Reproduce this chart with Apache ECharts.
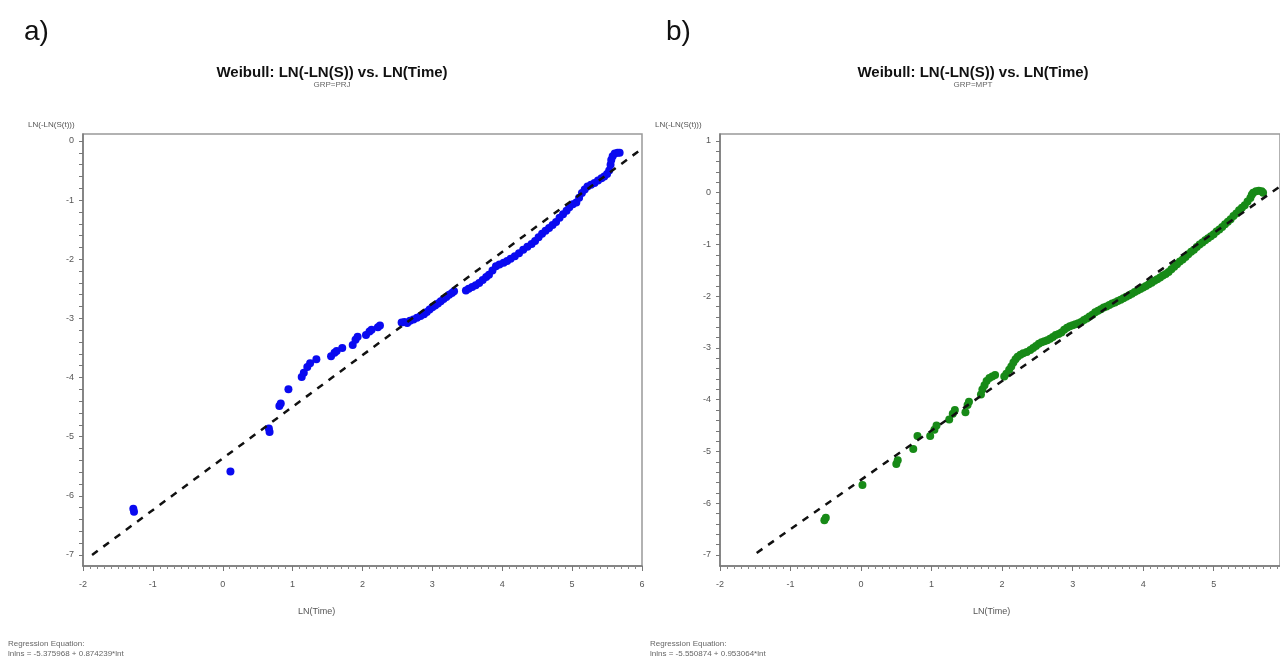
<!DOCTYPE html>
<html><head><meta charset="utf-8">
<script src="https://cdn.jsdelivr.net/npm/echarts@6/dist/echarts.min.js"></script>
<style>html,body{margin:0;padding:0;background:#fff}#c{width:1280px;height:663px}</style>
</head><body><div id="c"></div>
<script>
// ---- data ----
const xTickLabels = [-2, -1, 0, 1, 2, 3, 4, 5, 6];
const yTickLabelsA = [0, -1, -2, -3, -4, -5, -6, -7];
const yTickLabelsB = [1, 0, -1, -2, -3, -4, -5, -6, -7];

const pointsA = [
  [-1.27,-6.27],[-1.28,-6.22],[0.11,-5.59],[0.66,-4.86],[0.67,-4.92],[0.81,-4.48],[0.83,-4.44],
  [0.94,-4.20],[1.13,-3.99],[1.16,-3.92],[1.21,-3.82],[1.25,-3.76],[1.34,-3.69],[1.55,-3.64],
  [1.60,-3.58],[1.63,-3.55],[1.71,-3.50],[1.86,-3.45],[1.90,-3.36],[1.93,-3.31],[2.05,-3.28],
  [2.10,-3.22],[2.13,-3.19],[2.22,-3.15],[2.25,-3.12],
  [2.56,-3.07],[2.60,-3.06],[2.64,-3.08],[2.68,-3.04],[2.73,-3.02],[2.78,-2.99],[2.83,-2.96],
  [2.88,-2.93],[2.92,-2.89],[2.96,-2.85],[3.00,-2.81],[3.04,-2.78],[3.08,-2.75],[3.12,-2.71],
  [3.16,-2.67],[3.20,-2.64],[3.24,-2.60],[3.28,-2.57],[3.31,-2.54],
  [3.48,-2.53],[3.52,-2.50],[3.57,-2.47],[3.62,-2.44],[3.67,-2.40],[3.72,-2.35],[3.77,-2.30],
  [3.81,-2.26],[3.86,-2.19],[3.91,-2.12],[3.96,-2.09],[4.02,-2.06],[4.07,-2.03],[4.12,-1.99],
  [4.18,-1.95],[4.24,-1.90],[4.30,-1.84],[4.36,-1.79],[4.42,-1.74],[4.47,-1.69],[4.52,-1.63],
  [4.57,-1.57],[4.62,-1.52],[4.67,-1.47],[4.72,-1.42],[4.77,-1.37],[4.82,-1.30],[4.87,-1.24],
  [4.92,-1.18],[4.96,-1.12],[5.01,-1.07],[5.06,-1.04],[5.10,-0.96],[5.14,-0.88],[5.18,-0.82],
  [5.22,-0.77],[5.27,-0.74],[5.32,-0.71],[5.37,-0.67],[5.42,-0.63],[5.46,-0.60],[5.50,-0.56],
  [5.53,-0.50],[5.55,-0.40],[5.56,-0.32],[5.58,-0.26],[5.61,-0.21],[5.65,-0.20],[5.68,-0.20]
];

const pointsB = [
  [-0.52,-6.33],[-0.50,-6.28],[0.02,-5.65],[0.50,-5.24],[0.52,-5.17],[0.74,-4.95],[0.80,-4.70],
  [0.98,-4.70],[1.04,-4.58],[1.07,-4.50],[1.25,-4.38],[1.30,-4.27],[1.33,-4.20],[1.48,-4.24],
  [1.51,-4.10],[1.53,-4.04],[1.70,-3.90],[1.72,-3.80],[1.75,-3.72],[1.78,-3.64],[1.82,-3.58],
  [1.86,-3.55],[1.90,-3.52],
  [2.03,-3.55],[2.06,-3.50],[2.10,-3.42],[2.13,-3.36],[2.16,-3.28],[2.19,-3.22],[2.22,-3.17],
  [2.26,-3.13],[2.30,-3.10],[2.35,-3.08],[2.40,-3.04],[2.44,-3.00],[2.48,-2.96],[2.52,-2.92],
  [2.56,-2.89],[2.60,-2.87],[2.64,-2.85],[2.68,-2.82],[2.72,-2.79],[2.76,-2.75],[2.80,-2.73],
  [2.84,-2.70],[2.88,-2.65],[2.92,-2.61],[2.96,-2.58],[3.00,-2.56],[3.04,-2.54],[3.08,-2.52],
  [3.12,-2.50],[3.16,-2.46],[3.20,-2.43],[3.24,-2.39],[3.28,-2.36],[3.32,-2.31],[3.36,-2.28],
  [3.40,-2.25],[3.44,-2.22],[3.48,-2.20],[3.52,-2.17],[3.56,-2.14],[3.60,-2.12],[3.64,-2.09],
  [3.68,-2.07],[3.72,-2.04],[3.76,-2.01],[3.80,-1.98],[3.84,-1.95],[3.88,-1.92],[3.92,-1.89],
  [3.96,-1.86],[4.00,-1.83],[4.04,-1.80],[4.08,-1.77],[4.12,-1.74],[4.16,-1.70],[4.20,-1.67],
  [4.24,-1.64],[4.28,-1.60],[4.32,-1.57],[4.36,-1.53],[4.40,-1.48],[4.44,-1.43],[4.48,-1.38],
  [4.52,-1.33],[4.56,-1.29],[4.60,-1.24],[4.64,-1.19],[4.68,-1.14],[4.72,-1.10],[4.76,-1.05],
  [4.80,-1.00],[4.84,-0.96],[4.88,-0.92],[4.92,-0.88],[4.96,-0.84],[5.00,-0.80],[5.04,-0.75],
  [5.08,-0.71],[5.12,-0.66],[5.16,-0.61],[5.20,-0.56],[5.24,-0.51],[5.28,-0.45],[5.32,-0.40],
  [5.36,-0.34],[5.40,-0.29],[5.44,-0.24],[5.48,-0.17],[5.52,-0.10],[5.54,-0.04],[5.56,0.00],
  [5.60,0.03],[5.64,0.04],[5.68,0.03],[5.70,0.00]
];

const fitA = [[-1.87,-7.00],[6.00,-0.13]];
const fitB = [[-1.48,-6.96],[5.94,0.12]];

// ---- helpers ----
function minorTicks(labels){
  const hi = Math.max(...labels), lo = Math.min(...labels), out = [];
  for (let i = 0; i <= Math.round((hi - lo) * 5); i++) out.push(+(lo + i * 0.2).toFixed(2));
  return out;
}
const FONT = 'Liberation Sans, Arial, sans-serif';
const lblStyle = {color:'#555', fontSize:9, fontFamily:FONT};
const axisLineStyle = {lineStyle:{color:'#777', width:1.5}};

function xAxisDef(gi, max){
  return {
    type:'value', gridIndex:gi, min:-2, max:max, interval:1,
    axisLine:{show:true, onZero:false, ...axisLineStyle},
    axisTick:{show:true, length:5, lineStyle:{color:'#777'}},
    minorTick:{show:true, splitNumber:10, length:3, lineStyle:{color:'#888'}},
    axisLabel:{...lblStyle, margin:14, customValues: xTickLabels.filter(v => v <= max)},
    splitLine:{show:false}, minorSplitLine:{show:false}
  };
}
function yAxisDef(gi, min, max, labels){
  return {
    type:'value', gridIndex:gi, min:min, max:max,
    axisLine:{show:true, onZero:false, ...axisLineStyle},
    axisTick:{show:true, length:4, lineStyle:{color:'#777'}, customValues: minorTicks(labels)},
    axisLabel:{...lblStyle, margin:9, customValues: labels},
    splitLine:{show:false}
  };
}

const chart = echarts.init(document.getElementById('c'), null, {renderer:'canvas'});
chart.setOption({
  backgroundColor:'#fff',
  animation:false,
  title:[
    {text:'Weibull: LN(-LN(S)) vs. LN(Time)', left:327, top:60, textAlign:'center',
     textStyle:{fontSize:15, fontWeight:'bold', color:'#111', fontFamily:FONT},
     subtext:'GRP=PRJ', itemGap:1, subtextStyle:{fontSize:8, color:'#666', fontFamily:FONT}},
    {text:'Weibull: LN(-LN(S)) vs. LN(Time)', left:968, top:60, textAlign:'center',
     textStyle:{fontSize:15, fontWeight:'bold', color:'#111', fontFamily:FONT},
     subtext:'GRP=MPT', itemGap:1, subtextStyle:{fontSize:8, color:'#666', fontFamily:FONT}}
  ],
  grid:[
    {left:83, top:134, width:559, height:432, show:true, borderColor:'#999', borderWidth:1.5, backgroundColor:'#fff'},
    {left:720, top:134, right:0, height:432, show:true, borderColor:'#999', borderWidth:1.5, backgroundColor:'#fff'}
  ],
  xAxis:[xAxisDef(0, 6), xAxisDef(1, 5.94)],
  yAxis:[
    yAxisDef(0, -7.187, 0.118, yTickLabelsA),
    yAxisDef(1, -7.213, 1.135, yTickLabelsB)
  ],
  series:[
    {type:'line', xAxisIndex:0, yAxisIndex:0, data:fitA, symbol:'none', z:3,
     lineStyle:{color:'#111', width:2.5, type:[7,7]}},
    {type:'scatter', xAxisIndex:0, yAxisIndex:0, data:pointsA, symbol:'circle', symbolSize:8, z:2,
     itemStyle:{color:'#0a0af0', opacity:1}},
    {type:'line', xAxisIndex:1, yAxisIndex:1, data:fitB, symbol:'none', z:3,
     lineStyle:{color:'#111', width:2.5, type:[7,7]}},
    {type:'scatter', xAxisIndex:1, yAxisIndex:1, data:pointsB, symbol:'circle', symbolSize:8, z:2,
     itemStyle:{color:'#178a17', opacity:1}}
  ],
  graphic:[
    {type:'text', left:24, top:18, style:{text:'a)', fontSize:28, fill:'#111', fontFamily:FONT}},
    {type:'text', left:666, top:18, style:{text:'b)', fontSize:28, fill:'#111', fontFamily:FONT}},
    {type:'text', left:28, top:121, style:{text:'LN(-LN(S(t)))', fontSize:8, fill:'#555', fontFamily:FONT}},
    {type:'text', left:655, top:121, style:{text:'LN(-LN(S(t)))', fontSize:8, fill:'#555', fontFamily:FONT}},
    {type:'text', left:298, top:607, style:{text:'LN(Time)', fontSize:9, fill:'#555', fontFamily:FONT}},
    {type:'text', left:973, top:607, style:{text:'LN(Time)', fontSize:9, fill:'#555', fontFamily:FONT}},
    {type:'text', left:8, top:639, style:{text:'Regression Equation:\nlnlns = -5.375968 + 0.874239*lnt', fontSize:8, lineHeight:10, fill:'#666', fontFamily:FONT}},
    {type:'text', left:650, top:639, style:{text:'Regression Equation:\nlnlns = -5.550874 + 0.953064*lnt', fontSize:8, lineHeight:10, fill:'#666', fontFamily:FONT}}
  ]
});
</script>
</body></html>
